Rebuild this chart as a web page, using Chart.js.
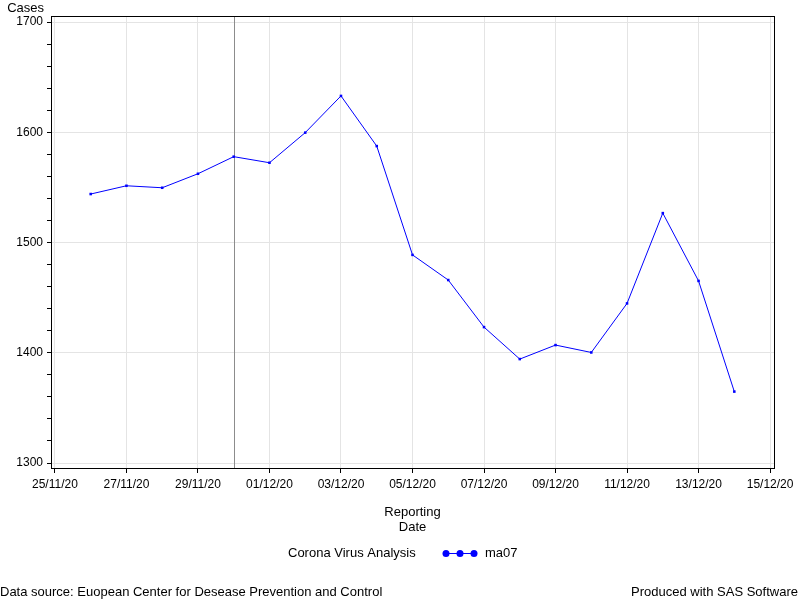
<!DOCTYPE html>
<html>
<head>
<meta charset="utf-8">
<script src="https://cdn.jsdelivr.net/npm/chart.js@4.4.1/dist/chart.umd.min.js"></script>
<style>
  html, body { margin: 0; padding: 0; background: #fff; }
  canvas { display: block; }
</style>
</head>
<body>
<canvas id="chart" width="800" height="600"></canvas>
<script>
// data
const dates = ['26/11/20', '27/11/20', '28/11/20', '29/11/20', '30/11/20', '01/12/20', '02/12/20',
  '03/12/20', '04/12/20', '05/12/20', '06/12/20', '07/12/20', '08/12/20', '09/12/20', '10/12/20',
  '11/12/20', '12/12/20', '13/12/20', '14/12/20'];
const ma07 = [1544, 1551.5, 1549.7, 1562.4, 1577.9, 1572.4, 1599.7, 1633, 1587.5, 1488.8, 1466,
  1423.3, 1394.3, 1407, 1400.3, 1444.8, 1526.7, 1465.2, 1364.8];
const xTickLabels = ['25/11/20', '27/11/20', '29/11/20', '01/12/20', '03/12/20', '05/12/20',
  '07/12/20', '09/12/20', '11/12/20', '13/12/20', '15/12/20'];
const yTicks = [1300, 1320, 1340, 1360, 1380, 1400, 1420, 1440, 1460, 1480, 1500, 1520, 1540, 1560,
  1580, 1600, 1620, 1640, 1660, 1680, 1700];
const refDate = '30/11/20';

const FONT = 'Liberation Sans, Arial, sans-serif';
const startDate = new Date(2020, 10, 25);

// days since 25/11/20
function dayIndex(s) {
  const [d, m, y] = s.split('/').map(Number);
  return Math.round((new Date(2000 + y, m - 1, d) - startDate) / 86400000);
}

const points = dates.map((d, i) => ({ x: dayIndex(d), y: ma07[i] }));

const extras = {
  id: 'extras',
  beforeDatasetsDraw(chart) {
    const { ctx, chartArea: a, scales: { x } } = chart;
    const rx = Math.round(x.getPixelForValue(dayIndex(refDate))) + 0.5;
    ctx.save();
    ctx.strokeStyle = '#8c8c8c';
    ctx.lineWidth = 1;
    ctx.beginPath();
    ctx.moveTo(rx, a.top);
    ctx.lineTo(rx, a.bottom);
    ctx.stroke();
    ctx.restore();
  },
  afterDraw(chart) {
    const { ctx, chartArea: a } = chart;
    ctx.save();
    ctx.strokeStyle = '#000';
    ctx.lineWidth = 1;
    ctx.strokeRect(Math.round(a.left) + 0.5, Math.round(a.top) + 0.5,
      Math.round(a.right - a.left), Math.round(a.bottom - a.top));

    ctx.fillStyle = '#000';
    ctx.font = '13px ' + FONT;
    ctx.textBaseline = 'middle';

    ctx.textAlign = 'right';
    ctx.fillText('Cases', 44, 8);

    const cx = (a.left + a.right) / 2;
    ctx.textAlign = 'center';
    ctx.fillText('Reporting', cx, 512);
    ctx.fillText('Date', cx, 527);

    // legend
    ctx.textAlign = 'left';
    ctx.fillText('Corona Virus Analysis', 288, 553);
    ctx.strokeStyle = '#0000ff';
    ctx.beginPath();
    ctx.moveTo(443, 553.5);
    ctx.lineTo(477, 553.5);
    ctx.stroke();
    ctx.fillStyle = '#0000ff';
    [446, 460, 474].forEach(px => {
      ctx.beginPath();
      ctx.arc(px, 553.5, 3.5, 0, Math.PI * 2);
      ctx.fill();
    });
    ctx.fillStyle = '#000';
    ctx.fillText('ma07', 485, 553);

    // footnotes
    ctx.fillText('Data source: Euopean Center for Desease Prevention and Control', 0, 592);
    ctx.textAlign = 'right';
    ctx.fillText('Produced with SAS Software', 798, 592);
    ctx.restore();
  }
};

Chart.defaults.font.family = FONT;
Chart.defaults.font.size = 12;
Chart.defaults.color = '#000';

new Chart(document.getElementById('chart'), {
  type: 'line',
  data: {
    datasets: [{
      label: 'ma07',
      data: points,
      borderColor: '#0000ff',
      backgroundColor: '#0000ff',
      borderWidth: 1,
      pointStyle: 'rect',
      pointRadius: 1.8,
      pointBorderWidth: 0,
      tension: 0
    }]
  },
  options: {
    responsive: false,
    animation: false,
    layout: { padding: { top: 16, right: 26, bottom: 104, left: 0 } },
    plugins: { legend: { display: false }, tooltip: { enabled: false } },
    scales: {
      x: {
        type: 'linear',
        min: -0.11,
        max: 20.11,
        afterBuildTicks(scale) {
          scale.ticks = xTickLabels.map(l => ({ value: dayIndex(l) }));
        },
        afterFit(scale) { scale.height = 28; },
        ticks: {
          autoSkip: false,
          maxRotation: 0,
          padding: 4,
          callback(value) {
            const l = xTickLabels.find(t => dayIndex(t) === value);
            return l || '';
          }
        },
        grid: { color: '#e4e4e4', tickColor: '#000', tickLength: 5 },
        border: { color: '#000' }
      },
      y: {
        min: 1295.5,
        max: 1705.5,
        afterBuildTicks(scale) {
          scale.ticks = yTicks.map(v => ({ value: v }));
        },
        afterFit(scale) { scale.width = 51; },
        ticks: {
          padding: 4,
          callback(value) { return value % 100 === 0 ? String(value) : ''; }
        },
        grid: {
          color: ctx => (ctx.tick && ctx.tick.value % 100 === 0 ? '#e4e4e4' : 'rgba(0,0,0,0)'),
          tickColor: '#000',
          tickLength: 4
        },
        border: { color: '#000' }
      }
    }
  },
  plugins: [extras]
});
</script>
</body>
</html>
